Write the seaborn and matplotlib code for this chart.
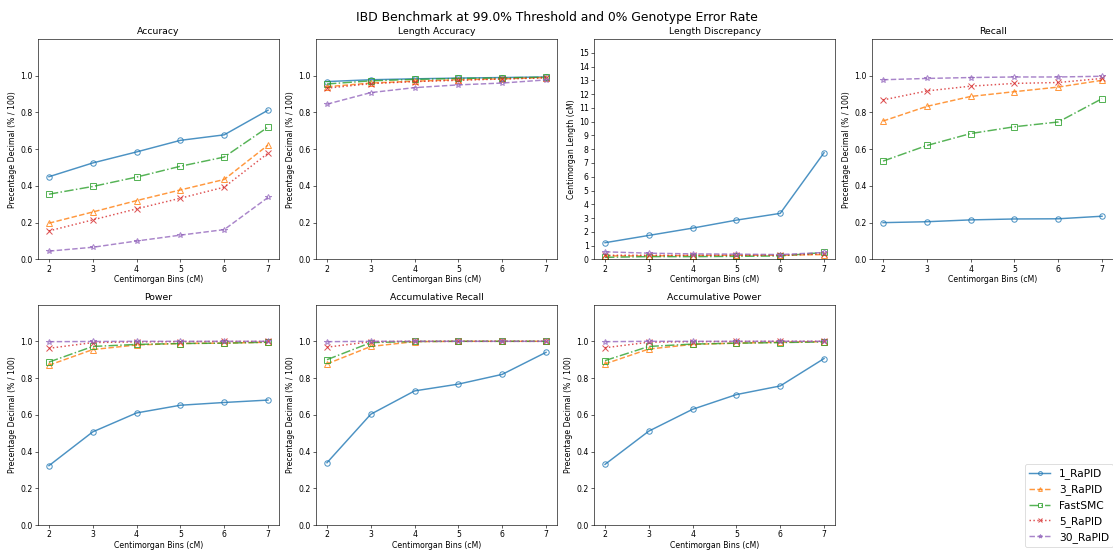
import numpy as np
import pandas as pd
import matplotlib
matplotlib.use("Agg")
import matplotlib.pyplot as plt
import seaborn as sns

bins = [2, 3, 4, 5, 6, 7]
methods = ["1_RaPID", "3_RaPID", "FastSMC", "5_RaPID", "30_RaPID"]

accuracy = {
    "1_RaPID": [0.450, 0.525, 0.585, 0.648, 0.678, 0.812],
    "3_RaPID": [0.197, 0.258, 0.320, 0.378, 0.435, 0.622],
    "FastSMC": [0.355, 0.397, 0.448, 0.507, 0.557, 0.720],
    "5_RaPID": [0.155, 0.215, 0.275, 0.333, 0.393, 0.578],
    "30_RaPID": [0.045, 0.066, 0.100, 0.132, 0.162, 0.337],
}
length_accuracy = {
    "1_RaPID": [0.968, 0.978, 0.983, 0.987, 0.990, 0.993],
    "3_RaPID": [0.940, 0.960, 0.970, 0.978, 0.983, 0.990],
    "FastSMC": [0.955, 0.972, 0.980, 0.985, 0.988, 0.992],
    "5_RaPID": [0.932, 0.957, 0.968, 0.975, 0.982, 0.988],
    "30_RaPID": [0.845, 0.908, 0.935, 0.950, 0.960, 0.977],
}
length_discrepancy = {
    "1_RaPID": [1.21, 1.74, 2.27, 2.85, 3.34, 7.74],
    "3_RaPID": [0.25, 0.25, 0.28, 0.30, 0.30, 0.35],
    "FastSMC": [0.15, 0.20, 0.20, 0.22, 0.25, 0.50],
    "5_RaPID": [0.30, 0.30, 0.30, 0.30, 0.30, 0.40],
    "30_RaPID": [0.55, 0.45, 0.40, 0.38, 0.35, 0.50],
}
recall = {
    "1_RaPID": [0.200, 0.205, 0.215, 0.220, 0.221, 0.235],
    "3_RaPID": [0.753, 0.833, 0.887, 0.913, 0.938, 0.975],
    "FastSMC": [0.535, 0.620, 0.685, 0.722, 0.748, 0.875],
    "5_RaPID": [0.868, 0.917, 0.943, 0.958, 0.963, 0.985],
    "30_RaPID": [0.978, 0.985, 0.990, 0.993, 0.993, 0.997],
}
power = {
    "1_RaPID": [0.323, 0.507, 0.610, 0.652, 0.667, 0.680],
    "3_RaPID": [0.870, 0.955, 0.980, 0.988, 0.990, 0.995],
    "FastSMC": [0.887, 0.972, 0.983, 0.988, 0.990, 0.995],
    "5_RaPID": [0.962, 0.993, 0.997, 0.998, 0.999, 0.999],
    "30_RaPID": [0.998, 0.999, 1.000, 1.000, 1.000, 1.000],
}
acc_recall = {
    "1_RaPID": [0.339, 0.603, 0.730, 0.767, 0.820, 0.940],
    "3_RaPID": [0.877, 0.972, 0.998, 1.000, 1.000, 1.000],
    "FastSMC": [0.900, 0.993, 0.999, 1.000, 1.000, 1.000],
    "5_RaPID": [0.968, 0.998, 1.000, 1.000, 1.000, 1.000],
    "30_RaPID": [0.998, 1.000, 1.000, 1.000, 1.000, 1.000],
}
acc_power = {
    "1_RaPID": [0.330, 0.511, 0.630, 0.710, 0.757, 0.906],
    "3_RaPID": [0.877, 0.958, 0.983, 0.990, 0.995, 0.998],
    "FastSMC": [0.895, 0.972, 0.985, 0.990, 0.993, 0.997],
    "5_RaPID": [0.965, 0.995, 0.998, 0.999, 1.000, 1.000],
    "30_RaPID": [0.998, 1.000, 1.000, 1.000, 1.000, 1.000],
}

panels = [
    ("Accuracy", accuracy, "Precentage Decimal (% / 100)"),
    ("Length Accuracy", length_accuracy, "Precentage Decimal (% / 100)"),
    ("Length Discrepancy", length_discrepancy, "Centimorgan Length (cM)"),
    ("Recall", recall, "Precentage Decimal (% / 100)"),
    ("Power", power, "Precentage Decimal (% / 100)"),
    ("Accumulative Recall", acc_recall, "Precentage Decimal (% / 100)"),
    ("Accumulative Power", acc_power, "Precentage Decimal (% / 100)"),
]

colors = {"1_RaPID": "#1f77b4", "3_RaPID": "#ff7f0e", "FastSMC": "#2ca02c",
          "5_RaPID": "#d62728", "30_RaPID": "#9467bd"}
markers = {"1_RaPID": "o", "3_RaPID": "^", "FastSMC": "s", "5_RaPID": "x", "30_RaPID": "*"}
lstyles = {"1_RaPID": "-", "3_RaPID": "--", "FastSMC": "-.", "5_RaPID": ":", "30_RaPID": "--"}

fig, axes = plt.subplots(2, 4, figsize=(20, 9.902), dpi=55.65)
fig.subplots_adjust(left=38 / 1113, right=1.0, top=1 - 39 / 551, bottom=1 - 525 / 551,
                    wspace=0.154, hspace=0.205)
axes = axes.ravel()

for ax, (title, data, ylabel) in zip(axes, panels):
    for m in methods:
        df = pd.DataFrame({"bin": bins, "val": data[m]})
        sns.lineplot(data=df, x="bin", y="val", ax=ax, color=colors[m], marker=markers[m],
                     linestyle=lstyles[m], linewidth=1.9, markerfacecolor="none",
                     markeredgecolor=colors[m], markeredgewidth=1.3, markersize=7,
                     alpha=0.8, label=m, legend=False)
    ax.set_title(title, fontsize=12)
    ax.set_xlabel("Centimorgan Bins (cM)", labelpad=1.5)
    ax.set_ylabel(ylabel)
    ax.set_xticks(bins)
    if title == "Length Discrepancy":
        ax.set_ylim(0, 16)
        ax.set_yticks(np.arange(0, 16, 1))
    else:
        ax.set_ylim(0, 1.2)
        ax.set_yticks(np.round(np.arange(0, 1.01, 0.2), 1))

axes[7].axis("off")

handles, labels = axes[0].get_legend_handles_labels()
fig.legend(handles, labels, loc="upper left", bbox_to_anchor=(1025 / 1113, 1 - 464 / 551),
           borderaxespad=0, fontsize=13.7, markerscale=0.7)

fig.suptitle("IBD Benchmark at 99.0% Threshold and 0% Genotype Error Rate", fontsize=16)
fig.savefig("out.png", dpi=55.65)
